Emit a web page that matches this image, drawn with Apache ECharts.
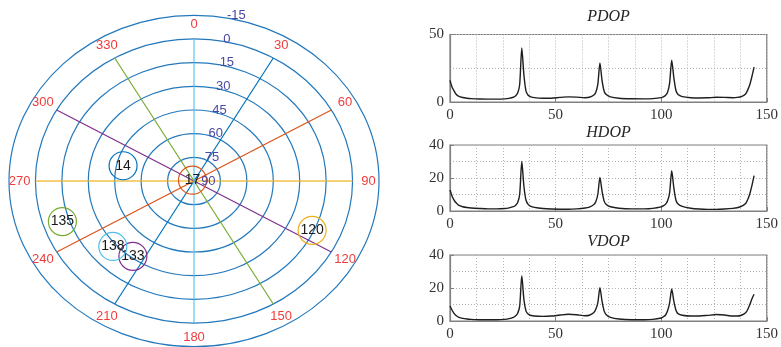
<!DOCTYPE html>
<html>
<head>
<meta charset="utf-8">
<script src="https://cdn.jsdelivr.net/npm/echarts@6/dist/echarts.min.js"></script>
<style>
html,body{margin:0;padding:0;background:#fff;}
#chart{width:781px;height:347px;}
</style>
</head>
<body>
<div id="chart"></div>
<script>
// ---------- Sky plot data ----------
const azTicks = [0, 30, 60, 90, 120, 150, 180, 210, 240, 270, 300, 330];
const ringElevations = [75, 60, 45, 30, 15, 0, -15];
const elevationLabels = [90, 75, 60, 45, 30, 15, 0, -15];
const spokeAzimuths = [30, 60, 90, 120, 150, 180];
const satIds = ['14', '17', '120', '133', '135', '138'];
const satAzimuth = [283.5, 300, 115, 216, 251, 228];
const satElevation = [48.6, 89, 16, 31, 11, 28];

// ---------- DOP data ----------
const epochs = [0,1,2,3,4,6,8,10,14,18,22,26,28,30,31,32,33,34,35,36,37,38,40,44,48,52,56,60,64,66,68,69,70,71,72,73,74,76,80,86,92,96,100,101,102,103,104,105,106,107,108,110,114,118,122,126,130,134,136,138,140,141,142,143,144];
const pdop = [16,11,8,5.5,4.3,3.3,2.8,2.5,2.2,2.1,2.1,2.3,2.7,3.5,4.5,6.5,13,40,20,8,5,4,3.2,2.8,2.8,3.4,3.8,3.6,3.2,3.5,5,7,13,29,16,8,5.5,3.8,2.8,2.4,2.3,2.5,3.2,3.8,4.8,7,14,31,18,8.5,5.5,4,3.2,3,3.1,3.5,3.4,3.2,3.4,4,6,9,13,19,25.8];
const hdop = [12.7,9,6.5,4.8,3.6,2.6,2.1,1.8,1.5,1.3,1.3,1.5,1.9,2.6,3.4,5,10,30,15,6.5,4,3,2.2,1.5,1.2,1.1,1.1,1.3,1.8,2.4,3.8,5.5,10,20.4,12,6,4,2.6,1.7,1.3,1.3,1.6,2.5,3.1,4,6,11,24.4,14,6.5,4.2,2.8,1.7,1.2,1,1,1.2,1.6,2,2.8,4.5,7,10.5,15.5,21.4];
const vdop = [9.1,6.5,4.5,3.2,2.4,1.6,1.2,1,0.8,0.8,0.8,1,1.4,2.2,3,4.5,9,27.5,13,6,4.2,3.5,3,2.8,3,3.6,4.1,3.8,3.2,3.5,5,7,11,20.2,12,6,3.8,2.2,1.2,0.8,0.8,1,1.8,2.5,3.5,6,11,19.4,12,6.5,4.5,3.5,3,3,3.4,3.9,3.6,3,3,3.5,5,7,10,13.5,16.2];
const dopTitles = ['PDOP', 'HDOP', 'VDOP'];
const dopMax = [50, 40, 40];
const dopInterval = [50, 20, 20];
const xTicksMax = 150;

// ---------- styles ----------
const matlabColors = ['#0072BD', '#D95319', '#EDB120', '#7E2F8E', '#77AC30', '#4DBEEE'];
const spokeColors = ['#0072BD', '#D95319', '#EDB120', '#7E2F8E', '#77AC30', '#4DBEEE'];
const ringColor = '#2379bc';
const azColor = '#f03c3c';
const elColor = '#4848a6';
const sans = 'Liberation Sans, Arial, sans-serif';
const serif = 'Liberation Serif, Times New Roman, serif';

const R0 = 6; // radius of elevation 0 ring in units
function rOf(el) { return (90 - el) / 15; }

const chart = echarts.init(document.getElementById('chart'), null, {renderer: 'canvas'});

const grids = [
  {left: 9, top: 15.3, width: 370, height: 331.4, show: false},
  {left: 450, top: 34.5, width: 317, height: 67.5, show: true, borderColor: '#808080', borderWidth: 1.2},
  {left: 450, top: 145, width: 317, height: 66, show: true, borderColor: '#808080', borderWidth: 1.2},
  {left: 450, top: 255, width: 317, height: 66, show: true, borderColor: '#808080', borderWidth: 1.2}
];

const xAxes = [{gridIndex: 0, type: 'value', min: -7, max: 7, show: false}];
const yAxes = [{gridIndex: 0, type: 'value', min: -7, max: 7, show: false}];
const dotted = {show: true, lineStyle: {type: [1, 2], color: '#b4b4b4', width: 1}};
for (let i = 0; i < 3; i++) {
  xAxes.push({
    gridIndex: i + 1, type: 'value', min: 0, max: xTicksMax, interval: 50,
    axisLine: {show: true, onZero: false, lineStyle: {color: '#808080', width: 1.2}},
    axisTick: {show: true, inside: true, length: 4, lineStyle: {color: '#808080'}},
    minorTick: {show: false, splitNumber: 4},
    axisLabel: {color: '#333', fontFamily: serif, fontSize: 15, margin: 6},
    splitLine: dotted,
    minorSplitLine: dotted
  });
  yAxes.push({
    gridIndex: i + 1, type: 'value', min: 0, max: dopMax[i], interval: dopInterval[i],
    axisLine: {show: true, onZero: false, lineStyle: {color: '#808080', width: 1.2}},
    axisTick: {show: true, inside: true, length: 4, lineStyle: {color: '#808080'}},
    minorTick: {show: false, splitNumber: 2},
    axisLabel: {color: '#333', fontFamily: serif, fontSize: 15, margin: 6},
    splitLine: dotted,
    minorSplitLine: dotted
  });
}

const titles = [
  {text: dopTitles[0], left: 608.5, top: 9},
  {text: dopTitles[1], left: 608.5, top: 125},
  {text: dopTitles[2], left: 608.5, top: 234}
].map(t => Object.assign(t, {
  textAlign: 'center', padding: 0,
  textStyle: {fontFamily: serif, fontStyle: 'italic', fontWeight: 'normal', fontSize: 16, color: '#262626'}
}));

const series = [];
// rings
series.push({
  type: 'custom', xAxisIndex: 0, yAxisIndex: 0, silent: true, z: 1,
  data: ringElevations.map(e => [e]),
  renderItem: function (params, api) {
    const r = rOf(api.value(0));
    const c = api.coord([0, 0]);
    const p = api.coord([r, r]);
    return {type: 'ellipse', shape: {cx: c[0], cy: c[1], rx: p[0] - c[0], ry: c[1] - p[1]},
      style: {fill: 'none', stroke: ringColor, lineWidth: 1.2}};
  }
});
// spokes
series.push({
  type: 'custom', xAxisIndex: 0, yAxisIndex: 0, silent: true, z: 2,
  data: spokeAzimuths.map(a => [a]),
  renderItem: function (params, api) {
    const a = api.value(0) * Math.PI / 180;
    const p1 = api.coord([R0 * Math.sin(a), R0 * Math.cos(a)]);
    const p2 = api.coord([-R0 * Math.sin(a), -R0 * Math.cos(a)]);
    const col = spokeColors[params.dataIndex];
    const wide = (col === '#EDB120' || col === '#4DBEEE');
    return {type: 'line', shape: {x1: p1[0], y1: p1[1], x2: p2[0], y2: p2[1]},
      style: {stroke: col, lineWidth: wide ? 1.8 : 1.2, opacity: wide ? 0.6 : 1}};
  }
});
// azimuth labels
series.push({
  type: 'custom', xAxisIndex: 0, yAxisIndex: 0, silent: true, z: 3,
  data: azTicks.map(a => [a]),
  renderItem: function (params, api) {
    const deg = api.value(0);
    const a = deg * Math.PI / 180;
    const p = api.coord([6.6 * Math.sin(a), 6.6 * Math.cos(a)]);
    return {type: 'text', x: p[0], y: p[1],
      style: {text: String(deg), fill: azColor, font: '13px ' + sans, align: 'center', verticalAlign: 'middle'}};
  }
});
// elevation labels
series.push({
  type: 'custom', xAxisIndex: 0, yAxisIndex: 0, silent: true, z: 5,
  data: elevationLabels.map(e => [e]),
  renderItem: function (params, api) {
    const el = api.value(0);
    const r = rOf(el);
    const p = api.coord([0.27 + 0.14 * r, r]);
    return {type: 'text', x: p[0], y: p[1],
      style: {text: String(el), fill: elColor, font: '13px ' + sans, align: 'left', verticalAlign: 'middle'}};
  }
});
// satellites
series.push({
  type: 'custom', xAxisIndex: 0, yAxisIndex: 0, silent: true, z: 4,
  data: satIds.map((id, i) => [satAzimuth[i], satElevation[i]]),
  renderItem: function (params, api) {
    const a = api.value(0) * Math.PI / 180;
    const r = rOf(api.value(1));
    const p = api.coord([r * Math.sin(a), r * Math.cos(a)]);
    const col = matlabColors[params.dataIndex];
    return {type: 'group', children: [
      {type: 'circle', shape: {cx: p[0], cy: p[1], r: 14}, style: {fill: 'none', stroke: col, lineWidth: 1.2}},
      {type: 'text', x: p[0], y: p[1], style: {text: satIds[params.dataIndex], fill: '#1a1a1a', font: '14px ' + sans, align: 'center', verticalAlign: 'middle'}}
    ]};
  }
});
// DOP lines
[pdop, hdop, vdop].forEach((arr, i) => {
  series.push({
    type: 'line', xAxisIndex: i + 1, yAxisIndex: i + 1, showSymbol: false, smooth: 0.25,
    data: epochs.map((x, k) => [x, arr[k]]),
    lineStyle: {color: '#1e1e1e', width: 1.4}, z: 3
  });
});

chart.setOption({
  animation: false,
  backgroundColor: '#fff',
  title: titles,
  grid: grids,
  xAxis: xAxes,
  yAxis: yAxes,
  series: series
});
</script>
</body>
</html>
